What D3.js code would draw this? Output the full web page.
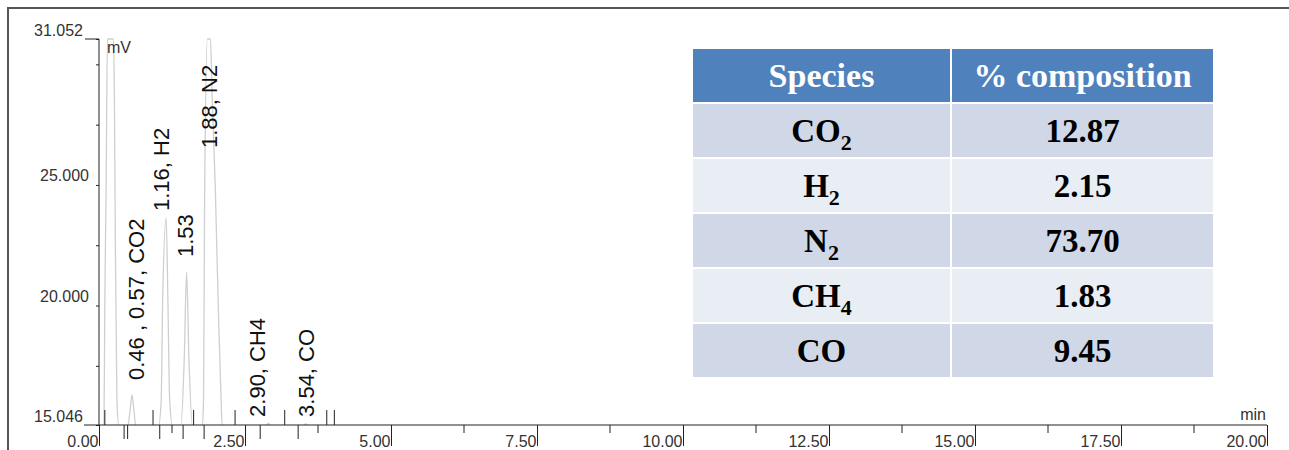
<!DOCTYPE html>
<meta charset="utf-8">
<style>
body { margin: 0; background: #fff; }
svg { display: block; }
.tick text { font: 16px "Liberation Sans", Arial, sans-serif; fill: #333; }
.lbl { font: 16px "Liberation Sans", Arial, sans-serif; fill: #333; }
.peak { font: 22px "Liberation Sans", Arial, sans-serif; fill: #111; }
.trace { fill: none; stroke: #cfcfcf; stroke-width: 1.3px; }
.cell text { font-family: "Liberation Serif", "Times New Roman", serif; font-weight: bold; }
</style>
<body>
<script src="https://cdnjs.cloudflare.com/ajax/libs/d3/7.8.5/d3.min.js"></script>
<script>
// chromatogram trace (time in min, signal in mV)
var times  = [0, 0.085, 0.10, 0.12, 0.145, 0.247, 0.264, 0.281, 0.307, 0.34,
              0.49, 0.53, 0.565, 0.60, 0.63,
              1.02, 1.065, 1.09, 1.15, 1.18, 1.21, 1.26,
              1.40, 1.46, 1.50, 1.54, 1.60,
              1.77, 1.79, 1.81, 1.857, 1.908, 1.94, 1.99, 2.04, 2.09, 2.11,
              2.85, 2.90, 2.95, 3.50, 3.54, 3.58, 20];
var signal = [15.0, 15.0, 20.2, 24.4, 31.052, 31.052, 28.5, 22.3, 16.1, 15.0,
              15.0, 15.6, 16.29, 15.6, 15.0,
              15.0, 16.08, 20.2, 23.63, 20.2, 16.08, 15.0,
              15.0, 17.8, 21.39, 17.8, 15.0,
              15.0, 16.1, 25.0, 31.052, 31.052, 28.5, 25.0, 20.2, 16.1, 15.0,
              15.0, 15.12, 15.0, 15.0, 15.1, 15.0, 15.0];

var xMajor = [0, 2.5, 5, 7.5, 10, 12.5, 15, 17.5, 20];
var xMinor = [1.25, 3.75, 6.25, 8.75, 11.25, 13.75, 16.25, 18.75];
var yTicks = [31.052, 30, 27.5, 25, 22.5, 20, 17.5, 15.046];
var yLabels = [31.052, 25, 20, 15.046];

// integration event marks
var eventsUp = [0.10, 0.925, 1.62, 2.33, 3.18, 3.90, 4.03];
var eventsDown = [0.43, 0.49, 1.04, 1.44, 1.80, 2.76, 3.41];

var peakText = ["0.46 , 0.57, CO2", "1.16, H2", "1.53", "1.88, N2", "2.90, CH4", "3.54, CO"];
var peakTime = [0.646, 1.074, 1.473, 1.889, 2.714, 3.556];
var peakBase = [16.91, 23.92, 22.01, 26.53, 15.38, 15.38];

var species = ["CO2", "H2", "N2", "CH4", "CO"];
var composition = ["12.87", "2.15", "73.70", "1.83", "9.45"];
var headers = ["Species", "% composition"];

var W = 1289, H = 450;
var svg = d3.select("body").append("svg").attr("width", W).attr("height", H);

// outer frame
svg.append("path")
    .attr("d", "M8," + H + "V8H" + W)
    .attr("fill", "none").attr("stroke", "#555").attr("stroke-width", 2);

var x = d3.scaleLinear().domain([0, 20]).range([99, 1267]),
    y = d3.scaleLinear().domain([15.046, 31.052]).range([425, 39]);

svg.append("clipPath").attr("id", "plot")
  .append("rect").attr("x", 99).attr("y", 38).attr("width", 1168).attr("height", 387);

var pts = times.map(function(t, i) { return [t, signal[i]]; });
var line = d3.line()
    .curve(d3.curveMonotoneX)
    .x(function(d) { return x(d[0]); })
    .y(function(d) { return y(d[1]); });

svg.append("path")
    .attr("class", "trace")
    .attr("clip-path", "url(#plot)")
    .attr("d", line(pts));

// y axis
svg.append("g")
    .attr("transform", "translate(99,0)")
    .call(d3.axisLeft(y).tickValues(yTicks).tickSize(3).tickFormat(""))
    .call(function(g) {
      g.selectAll("line, path").attr("stroke", "#222");
      g.select(".domain").attr("d", "M0," + y(31.052) + "V" + y(15.046));
    });
svg.append("line")
    .attr("x1", 85).attr("x2", 99).attr("y1", y(31.052)).attr("y2", y(31.052))
    .attr("stroke", "#222");

svg.selectAll(".ylab")
  .data(yLabels)
  .enter().append("text")
    .attr("class", "lbl")
    .attr("text-anchor", "end")
    .attr("x", function(d) { return (d === 25 || d === 20) ? 89 : 83; })
    .attr("y", function(d) { return y(d) - 3.5; })
    .text(function(d) { return d3.format(".3f")(d); });

svg.append("text").attr("class", "lbl").attr("x", 107).attr("y", 53).text("mV");

// x axis
var xg = svg.append("g").attr("transform", "translate(0,425)");
xg.append("line").attr("x1", 84).attr("x2", 1267).attr("stroke", "#222");
xg.call(d3.axisBottom(x).tickValues(xMajor).tickSize(21).tickFormat(d3.format(".2f")))
  .call(function(g) {
    g.select(".domain").remove();
    g.selectAll(".tick line").attr("stroke", "#222");
    g.selectAll(".tick text").attr("text-anchor", "end").attr("x", -1).attr("y", 21.5).attr("dy", 0);
  });
xg.selectAll(".minor")
  .data(xMinor)
  .enter().append("line")
    .attr("x1", x).attr("x2", x).attr("y1", 0).attr("y2", 8)
    .attr("stroke", "#222");
xg.selectAll(".evup")
  .data(eventsUp)
  .enter().append("line")
    .attr("x1", x).attr("x2", x).attr("y1", 0).attr("y2", -15)
    .attr("stroke", "#222");
xg.selectAll(".evdn")
  .data(eventsDown)
  .enter().append("line")
    .attr("x1", x).attr("x2", x).attr("y1", 0).attr("y2", 14)
    .attr("stroke", "#222");

svg.append("text").attr("class", "lbl").attr("text-anchor", "end")
    .attr("x", 1266).attr("y", 420).text("min");

// peak labels
svg.selectAll(".peak")
  .data(peakText)
  .enter().append("text")
    .attr("class", "peak")
    .attr("dominant-baseline", "central")
    .attr("transform", function(d, i) {
      return "translate(" + x(peakTime[i]) + "," + y(peakBase[i]) + ") rotate(-90)";
    })
    .text(function(d) { return d; });

// composition table
var tx = d3.scaleOrdinal().domain(headers).range([692, 951]),
    tw = d3.scaleOrdinal().domain(headers).range([259, 263]);
var rowKeys = ["head"].concat(species);
var ty = d3.scaleBand().domain(rowKeys).range([48, 378]);

var rows = svg.selectAll(".row")
  .data(rowKeys)
  .enter().append("g")
    .attr("class", "cell")
    .attr("transform", function(d) { return "translate(0," + ty(d) + ")"; });

rows.selectAll("rect")
  .data(function(d, i) { return headers.map(function(h) { return {h: h, r: i}; }); })
  .enter().append("rect")
    .attr("x", function(d) { return tx(d.h); })
    .attr("width", function(d) { return tw(d.h); })
    .attr("height", ty.bandwidth())
    .attr("fill", function(d) { return d.r === 0 ? "#4f81bd" : (d.r % 2 ? "#d0d8e8" : "#e9edf4"); })
    .attr("stroke", "#fff").attr("stroke-width", 2);

rows.each(function(key, i) {
  var g = d3.select(this);
  var cy = ty.bandwidth() / 2;
  if (i === 0) {
    headers.forEach(function(h) {
      g.append("text")
        .attr("x", tx(h) + tw(h) / 2).attr("y", cy)
        .attr("dy", "0.35em")
        .attr("text-anchor", "middle")
        .attr("fill", "#fff")
        .style("font-size", "34px")
        .text(h);
    });
    return;
  }
  var t = g.append("text")
      .attr("x", tx(headers[0]) + tw(headers[0]) / 2).attr("y", cy)
      .attr("dy", "0.35em")
      .attr("text-anchor", "middle")
      .attr("fill", "#000")
      .style("font-size", "33px");
  var m = key.match(/^([A-Za-z]+?)(\d*)$/);
  t.append("tspan").text(m[1]);
  if (m[2]) t.append("tspan").attr("dy", 8).style("font-size", "22px").text(m[2]);
  g.append("text")
      .attr("x", tx(headers[1]) + tw(headers[1]) / 2).attr("y", cy)
      .attr("dy", "0.35em")
      .attr("text-anchor", "middle")
      .attr("fill", "#000")
      .style("font-size", "33px")
      .text(composition[i - 1]);
});
</script>
</body>
